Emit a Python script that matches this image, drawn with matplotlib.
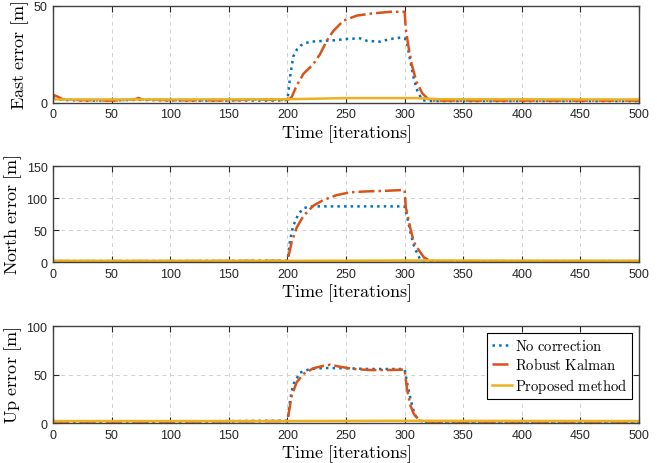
import matplotlib
matplotlib.use("Agg")
import matplotlib.pyplot as plt

# ─── Style (MATLAB-like) ─────────────────────────────────
plt.rcParams["font.family"] = ["Liberation Sans", "DejaVu Sans"]
plt.rcParams["mathtext.fontset"] = "cm"

BLUE = "#0072BD"
RED = "#D95319"
YELLOW = "#EDB120"

# ─── Data: East error ────────────────────────────────────
east_nc_x = [0, 2, 10, 30, 50, 72, 100, 130, 160, 190, 200, 202.4, 205, 208, 211, 215, 220,
             231, 240, 251, 262, 268, 279, 288, 298, 300, 302, 305, 308, 311, 315, 320, 400, 500]
east_nc_y = [2.5, 2.0, 1.5, 1.2, 1.3, 1.6, 1.3, 1.2, 1.3, 1.2, 1.5, 14, 24, 27.5, 29.5, 30.8, 31.6,
             32, 32.3, 33, 33.3, 32, 31.6, 33, 33.8, 33.5, 31, 21, 12, 6, 1.5, 1.0, 1.0, 1.0]
east_rk_x = [0, 1, 3, 8, 20, 50, 70, 73, 76, 100, 150, 170, 200, 203.6, 207.9, 213.6, 222,
             227.7, 233.5, 239, 247.7, 259, 270.5, 279, 288, 298, 300, 301, 303, 306, 310, 315,
             320, 325, 400, 500]
east_rk_y = [2, 4, 3.5, 2, 1.5, 1.2, 1.8, 2.6, 1.8, 1.4, 1.3, 1.8, 1.5, 3, 9, 15, 20,
             25, 32, 37, 42.4, 45, 46, 46.5, 47, 47, 47, 38, 30, 20, 11, 5,
             2, 1.2, 1.2, 1.2]
east_pm_x = [0, 100, 200, 250, 310, 330, 500]
east_pm_y = [1.8, 1.8, 1.9, 2.5, 2.5, 1.9, 1.8]

# ─── Data: North error ───────────────────────────────────
north_nc_x = [0, 100, 200, 202.4, 205, 209.4, 213.6, 219.3, 300, 302, 305, 308, 311, 313.5, 318, 500]
north_nc_y = [1.5, 1.5, 2, 36, 57, 75, 84, 87, 87, 72, 46, 25, 12.5, 3, 1.5, 1.5]
north_rk_x = [0, 100, 200, 203.6, 207.9, 213.6, 222, 230.8, 242, 253.6, 267.6, 285, 298, 300,
              301, 302, 305, 308, 312.4, 316.6, 322, 330, 500]
north_rk_y = [1.5, 1.5, 2, 31, 54, 72, 88, 97, 104.6, 109, 110.4, 111.4, 112.5, 112,
              85, 77.6, 51.6, 30.7, 17.7, 7, 2, 1.5, 1.5]
north_pm_x = [0, 200, 300, 500]
north_pm_y = [2.0, 2.0, 2.5, 2.0]

# ─── Data: Up error ──────────────────────────────────────
up_nc_x = [0, 100, 200, 202.4, 205, 210.8, 219.3, 230.8, 250.6, 270, 298, 300, 302, 305, 308, 311, 315, 500]
up_nc_y = [1.5, 1.5, 2.4, 24.7, 40, 52, 55.7, 56.7, 56.4, 55.7, 55.7, 55.5, 42, 24.7, 11, 3, 1.5, 1.5]
up_rk_x = [0, 100, 200, 203.6, 207.9, 213.6, 222, 230.8, 236.5, 245, 256.5, 270.5, 285, 298, 300,
           302, 305, 308, 312.4, 316, 500]
up_rk_y = [1.5, 1.5, 2, 28, 42, 50.5, 56.4, 59, 60.1, 58, 55.7, 54.6, 54.6, 55, 55,
           35, 17.8, 9, 3, 1.5, 1.5]
up_pm_x = [0, 200, 300, 500]
up_pm_y = [2.0, 2.0, 2.3, 2.0]

x_ticks = [0, 50, 100, 150, 200, 250, 300, 350, 400, 450, 500]

panels = [
    (r"$\mathrm{East\ error\ [m]}$", [0, 50], (east_nc_x, east_nc_y), (east_rk_x, east_rk_y),
     (east_pm_x, east_pm_y), [0.0807, 0.776, 0.892, 0.209]),
    (r"$\mathrm{North\ error\ [m]}$", [0, 50, 100, 150], (north_nc_x, north_nc_y),
     (north_rk_x, north_rk_y), (north_pm_x, north_pm_y), [0.0807, 0.433, 0.892, 0.207]),
    (r"$\mathrm{Up\ error\ [m]}$", [0, 50, 100], (up_nc_x, up_nc_y), (up_rk_x, up_rk_y),
     (up_pm_x, up_pm_y), [0.0807, 0.0862, 0.892, 0.209]),
]

fig = plt.figure(figsize=(6.57, 4.64), dpi=100)

for i, (ylab, yt, nc, rk, pm, pos) in enumerate(panels):
    ax = fig.add_axes(pos)
    ax.plot(nc[0], nc[1], ls=":", color=BLUE, lw=1.8, label=r"$\mathrm{No\ correction}$")
    ax.plot(rk[0], rk[1], ls="-.", color=RED, lw=1.8, label=r"$\mathrm{Robust\ Kalman}$")
    ax.plot(pm[0], pm[1], ls="-", color=YELLOW, lw=1.8, label=r"$\mathrm{Proposed\ method}$")

    ax.set_xlim(0, 500)
    ax.set_ylim(yt[0], yt[-1])
    ax.set_xticks(x_ticks)
    ax.set_yticks(yt)
    ax.grid(True, ls=(0, (4, 4)), color="#d0d0d0", lw=0.7)
    ax.tick_params(direction="in", top=True, right=True, length=4, width=0.8,
                   colors="#262626", labelsize=9, pad=4)
    for s in ax.spines.values():
        s.set_color("#404040")
        s.set_linewidth(1.0)

    ax.set_xlabel(r"$\mathrm{Time\ [iterations]}$", fontsize=13, labelpad=1)
    ax.set_ylabel(ylab, fontsize=13, labelpad=2)

    if i == 2:
        leg = ax.legend(loc="upper right", fontsize=10.5,
                        frameon=True, fancybox=False, edgecolor="black", framealpha=1,
                        handlelength=1.4, handletextpad=0.2, labelspacing=0.25,
                        borderpad=0.3, borderaxespad=0.5)
        leg.get_frame().set_linewidth(0.8)

fig.savefig("out.png", dpi=100)
